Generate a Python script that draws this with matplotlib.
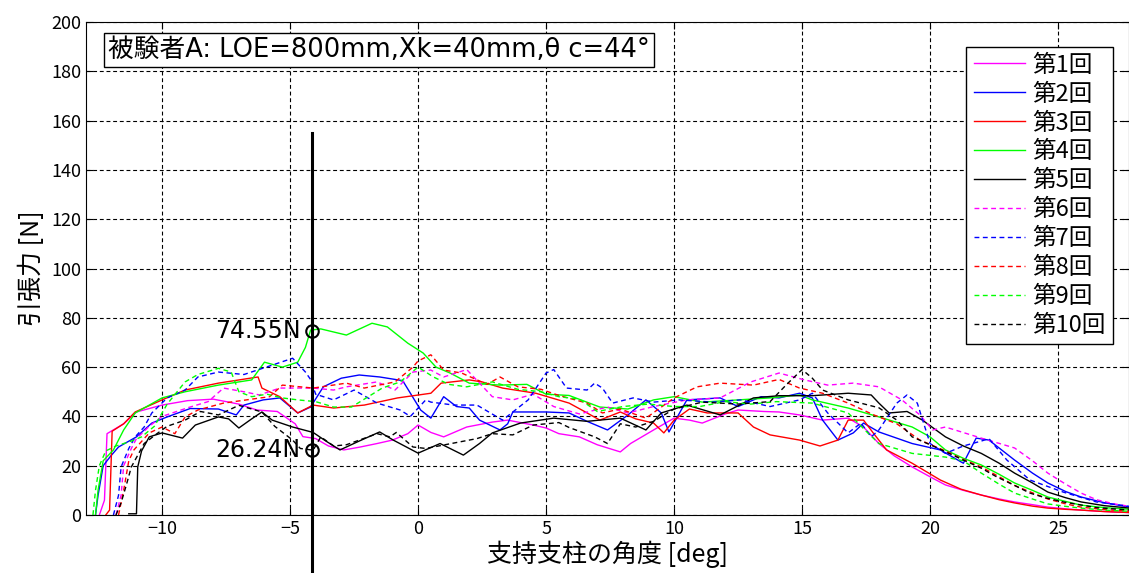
import matplotlib
matplotlib.use('Agg')
import matplotlib.pyplot as plt

plt.rcParams['font.family'] = ['Noto Sans CJK JP', 'DejaVu Sans']
wide_font = ['DejaVu Sans', 'Noto Sans CJK JP']

# (angle [deg], force [N]), one list per trial
trial1 = [(-12.45, 0), (-12.25, 6), (-12.15, 33), (-11.5, 37), (-11.0, 41.8), (-10.0, 44.6), (-9.0, 46.4),
          (-8.0, 47), (-7.0, 45), (-6.3, 42.6), (-5.5, 42), (-4.8, 37), (-4.5, 31.8), (-4.0, 31), (-3.5, 28),
          (-2.9, 26.4), (-2.3, 27.5), (-1.6, 29), (-1.0, 30.4), (-0.4, 33), (0.0, 36.5), (0.5, 33.5), (1.0, 31.7),
          (1.9, 35.7), (2.9, 37.7), (3.5, 38.5), (4.5, 36.5), (5.0, 35.3), (5.5, 33), (6.3, 31.7), (7.0, 28.5),
          (7.9, 25.6), (8.3, 29), (9.2, 34.5), (10.0, 39.3), (10.6, 38.5), (11.1, 37.3), (12.0, 41), (12.5, 42.6),
          (13.5, 42), (14.1, 41.8), (14.9, 40.6), (15.8, 38.5), (16.8, 39.3), (17.4, 35.7), (18.0, 29), (18.6, 24),
          (19.3, 19.5), (20.0, 15.5), (20.6, 12.2), (21.3, 10), (22.0, 8.1), (22.7, 6.5), (23.3, 5.3), (24.0, 4.2),
          (24.6, 3.2), (25.3, 2.5), (25.9, 2.0), (26.5, 1.6), (27.2, 1.2), (27.8, 1.0)]
trial2 = [(-12.6, 0), (-12.5, 8), (-12.3, 20), (-12.0, 24), (-11.7, 27.6), (-11.0, 31.7), (-10.4, 37.3), (-9.8, 39.8),
          (-8.9, 43.2), (-7.8, 43), (-7.1, 40.6), (-6.8, 44.6), (-6.05, 46.7), (-5.4, 47.5), (-4.7, 41.4), (-4.2, 43.8),
          (-3.7, 52), (-3.0, 55.5), (-2.3, 56.8), (-1.5, 56), (-0.6, 54.5), (0.1, 42.6), (0.5, 39.3), (1.0, 48),
          (1.5, 44), (2.0, 43.4), (2.4, 38.5), (3.2, 34.5), (3.5, 37), (3.7, 41.8), (5.0, 41.8), (5.9, 41.4),
          (6.6, 38), (7.4, 34.5), (8.2, 40.6), (8.9, 46.7), (9.5, 41.4), (9.8, 33.7), (10.5, 46.7), (11.8, 47.5),
          (12.5, 44), (13.4, 48), (14.1, 47.5), (14.9, 49.4), (15.4, 47.5), (15.8, 38.5), (16.4, 30.4), (17.0, 33.3),
          (17.4, 37.3), (18.0, 33.7), (19.3, 29), (20.4, 26.4), (21.3, 21), (21.8, 31.2), (22.3, 30.4), (23.3, 22.3),
          (24.0, 17), (24.6, 13), (25.3, 9.5), (25.9, 7.3), (26.8, 5), (27.8, 3.2)]
trial3 = [(-12.2, 0), (-12.05, 2), (-11.95, 34), (-11.5, 37), (-11.05, 41.8), (-10.0, 46.7), (-9.1, 50.7),
          (-7.8, 53.5), (-6.25, 56), (-6.1, 51.5), (-5.4, 48), (-4.7, 41.4), (-4.1, 44.6), (-3.3, 43.4), (-2.1, 44.6),
          (-0.8, 47.5), (0.5, 49.4), (0.9, 53.5), (2.0, 54.8), (2.5, 54), (3.3, 51.5), (4.6, 49.4), (5.9, 45.4),
          (6.5, 42), (7.1, 38.5), (7.9, 41.8), (8.5, 39), (9.2, 37.3), (9.6, 33.3), (10.0, 38.5), (10.6, 43),
          (11.3, 41.4), (12.5, 41.4), (13.1, 35.7), (13.75, 32.5), (14.9, 30.4), (15.7, 28), (16.4, 30.4),
          (16.8, 38.5), (17.4, 38.5), (17.8, 33), (18.3, 26.4), (19.3, 21), (20.4, 14.2), (21.2, 10.5), (22.0, 8.1),
          (22.7, 6.2), (23.3, 4.9), (24.0, 3.6), (24.6, 2.8), (25.3, 2.3), (25.9, 2.0), (26.8, 1.4), (27.8, 1.0)]
trial4 = [(-12.6, 0), (-12.5, 10), (-12.3, 22), (-11.9, 26.4), (-11.5, 34.5), (-11.05, 41.4), (-10.0, 47.5),
          (-9.1, 50), (-7.8, 52.7), (-6.5, 54.8), (-6.0, 62), (-5.3, 60), (-4.7, 62), (-4.4, 68), (-4.2, 75),
          (-3.8, 75.5), (-2.8, 73), (-1.8, 77.8), (-1.2, 76.3), (-0.4, 69.7), (0.2, 65.7), (0.7, 60), (1.25, 57.6),
          (2.0, 53.5), (3.2, 52.7), (4.25, 53), (5.0, 49), (5.9, 48.5), (7.1, 43.8), (8.2, 43), (9.2, 46.7),
          (10.0, 48), (11.1, 45.8), (12.5, 46.7), (13.75, 47.5), (14.9, 48.7), (15.4, 46.7), (16.8, 43.4),
          (18.0, 39.8), (19.3, 35.7), (20.0, 31.7), (20.6, 26.4), (21.3, 23), (22.0, 20.3), (22.7, 16.5),
          (23.3, 13), (24.0, 10), (24.6, 7.3), (25.3, 5.5), (25.9, 4), (26.8, 3), (27.8, 2.3)]
trial5 = [(-11.3, 0.5), (-11.0, 0.5), (-10.95, 19.5), (-10.8, 26), (-10.5, 31.7), (-10.0, 33.3), (-9.2, 31.2),
          (-8.7, 36.5), (-7.8, 39.8), (-7.4, 39), (-7.0, 35.3), (-6.5, 39), (-6.1, 41.8), (-5.7, 38.5), (-4.9, 35.7),
          (-4.1, 33.5), (-3.6, 30), (-3.05, 26.4), (-2.3, 30), (-1.5, 33.7), (-0.97, 30.4), (0.0, 25.1), (0.86, 29),
          (1.77, 24.3), (2.4, 29), (2.9, 33.3), (4.0, 37.3), (5.3, 39.3), (6.6, 38), (7.9, 39.3), (8.9, 34.5),
          (9.5, 41.4), (10.5, 44.6), (11.8, 40.6), (13.1, 47.5), (14.1, 48.4), (15.4, 48.4), (16.8, 49.4),
          (17.7, 48.7), (18.0, 45.4), (18.4, 41.4), (19.1, 42), (19.7, 38.5), (20.6, 31.7), (21.3, 28), (22.0, 25),
          (22.7, 21), (23.3, 17), (24.0, 13), (24.6, 9.3), (25.3, 7), (25.9, 5.3), (26.8, 3.8), (27.8, 2.8)]
trial6 = [(-11.8, 0), (-11.6, 8), (-11.5, 20), (-11.2, 27), (-11.0, 31), (-10.5, 36), (-10.0, 40), (-9.0, 43.5),
          (-8.2, 46), (-7.6, 51.5), (-6.8, 50), (-6.2, 48.7), (-5.4, 51.5), (-4.1, 51.5), (-3.3, 50.7), (-2.8, 52),
          (-1.6, 54), (-0.9, 50.7), (-0.2, 58), (0.5, 58.8), (1.0, 56), (1.9, 59), (2.9, 48), (3.7, 46.7), (4.5, 49),
          (5.3, 44), (6.3, 41), (7.4, 43.8), (8.2, 41.4), (9.2, 44), (10.5, 46.7), (11.8, 47.5), (13.0, 54),
          (14.1, 57.6), (15.1, 54.8), (16.0, 52.7), (17.0, 53.5), (18.0, 52), (18.9, 46.7), (19.6, 40.6),
          (20.1, 34.5), (20.6, 35.7), (22.0, 31.2), (23.3, 27.2), (24.0, 22), (24.6, 17), (25.3, 12.5),
          (25.9, 8.9), (26.5, 6.2), (27.2, 4.5), (27.8, 3.5)]
trial7 = [(-11.9, 0), (-11.7, 8), (-11.6, 19.5), (-11.3, 27), (-11.05, 31.7), (-10.7, 35.7), (-10.4, 41.4),
          (-9.8, 47.5), (-9.1, 50.7), (-8.6, 56), (-7.8, 58), (-6.8, 57), (-5.7, 60.8), (-4.9, 63.6), (-4.4, 58),
          (-4.2, 55), (-4.0, 49), (-3.3, 46.7), (-2.5, 50.7), (-1.6, 45.4), (-0.7, 42.6), (-0.3, 40), (0.3, 46.7),
          (0.5, 45.8), (1.4, 44.6), (2.3, 44.6), (3.3, 38.5), (4.3, 46.7), (5.0, 57.6), (5.3, 59), (5.8, 51.5),
          (6.6, 50.7), (6.9, 53.5), (7.2, 51.5), (7.6, 45.4), (8.4, 47.5), (9.2, 45.8), (10.2, 46.7), (11.5, 45.8),
          (12.6, 46.7), (13.75, 44), (14.9, 46.7), (15.4, 49.4), (16.0, 41.4), (16.8, 33.3), (17.3, 37.3),
          (17.7, 31.7), (18.0, 34.5), (18.7, 45.4), (19.1, 48.7), (19.5, 45.4), (20.0, 29), (20.6, 25), (21.3, 28),
          (22.0, 30), (22.3, 31), (23.0, 22.3), (23.9, 14.2), (25.2, 9.3), (26.5, 5.3), (27.8, 3.5)]
trial8 = [(-11.7, 0), (-11.5, 10), (-11.3, 22), (-11.1, 26.4), (-10.5, 33.3), (-10.0, 35.7), (-9.5, 33),
          (-9.1, 39.8), (-8.6, 42.6), (-7.6, 45.4), (-6.5, 47), (-5.8, 48), (-5.3, 52.7), (-4.1, 51.5), (-2.8, 53.5),
          (-2.1, 51.5), (-0.9, 54), (-0.2, 60), (0.0, 62.5), (0.5, 65), (1.0, 58.8), (1.7, 57.6), (2.7, 53),
          (3.2, 56), (3.9, 52), (4.8, 51), (5.5, 48.5), (6.6, 45.4), (7.2, 41.4), (7.9, 43), (8.9, 39.3),
          (10.0, 47.5), (10.9, 52), (11.8, 53.5), (13.1, 52.7), (14.1, 55), (14.9, 51.5), (15.8, 49.4),
          (16.8, 45.4), (17.8, 40.6), (18.7, 37), (19.6, 30.4), (20.6, 26), (21.3, 22.5), (22.0, 19.5),
          (22.7, 15.5), (23.3, 12), (24.0, 9), (24.6, 6.5), (25.3, 4.5), (25.9, 3.2), (26.8, 2.2), (27.8, 1.5)]
trial9 = [(-12.7, 0), (-12.6, 10), (-12.45, 20), (-12.2, 26), (-11.8, 28), (-11.2, 30), (-10.8, 31.7),
          (-10.3, 36), (-9.8, 45), (-9.1, 54), (-8.6, 57), (-7.8, 59.5), (-7.3, 58), (-7.0, 50), (-6.5, 48),
          (-5.9, 49), (-5.3, 47.5), (-4.7, 46.7), (-4.0, 46), (-3.3, 43.8), (-2.6, 43.8), (-1.4, 51.5), (-0.7, 54),
          (0.0, 60), (0.6, 56), (1.2, 53), (1.9, 52), (2.9, 54), (3.9, 51), (4.8, 50), (5.5, 48), (6.3, 47),
          (7.0, 42), (8.0, 44), (9.0, 45), (10.0, 44), (11.0, 44), (12.0, 46), (13.0, 45), (14.0, 46),
          (15.4, 45.4), (16.8, 41.4), (17.5, 34), (18.0, 29), (19.3, 25), (20.6, 23.5), (21.3, 22), (22.0, 17),
          (22.7, 12.5), (23.3, 8.9), (24.0, 6.5), (24.6, 4.5), (25.3, 3.5), (25.9, 2.8), (26.8, 2), (27.8, 1.5)]
trial10 = [(-11.8, 0), (-11.6, 5), (-11.4, 12), (-11.2, 19.5), (-10.7, 29), (-10.2, 33), (-9.8, 36), (-9.1, 38.5),
           (-8.5, 42), (-7.8, 40.6), (-7.0, 44.5), (-6.1, 41.8), (-5.6, 36), (-4.9, 30.4), (-4.6, 27), (-4.1, 26.3),
           (-3.8, 31.7), (-3.3, 28), (-2.8, 28.5), (-1.6, 33), (-1.1, 31.7), (-0.85, 33.5), (-0.2, 27.6), (0.3, 27),
           (1.3, 29), (2.3, 31), (2.9, 33), (3.7, 32.5), (4.5, 36.5), (5.5, 37.5), (5.9, 35.5), (6.9, 31.7),
           (7.4, 29), (7.9, 37), (8.5, 35.7), (9.2, 38), (10.0, 43), (11.1, 45.8), (12.5, 45), (13.75, 46),
           (14.4, 53), (15.0, 59), (15.4, 55.5), (15.8, 50.7), (16.8, 46.7), (18.0, 43.5), (18.7, 38.5),
           (19.3, 31.7), (20.2, 27.6), (21.3, 22.3), (22.0, 19), (22.6, 15.5), (23.3, 12), (23.9, 8.9), (24.5, 7),
           (25.2, 5.3), (26.5, 3), (27.8, 2)]

trials = [trial1, trial2, trial3, trial4, trial5, trial6, trial7, trial8, trial9, trial10]
labels = ['第1回', '第2回', '第3回', '第4回', '第5回', '第6回', '第7回', '第8回', '第9回', '第10回']
colors = ['#ff00ff', '#0000ff', '#ff0000', '#00ff00', '#000000'] * 2

# cursor line and the two values marked on it
cursor_x = -4.13
cursor_top = 155
marked_vals = [74.55, 26.24]

fig = plt.figure(figsize=(11.29, 5.73), dpi=100)
ax = fig.add_axes([0.0762, 0.1012, 0.9238, 0.8604])

for i, (pts, lab) in enumerate(zip(trials, labels)):
    xs = [p[0] for p in pts]
    ys = [p[1] for p in pts]
    ls = '-' if i < 5 else (0, (3.5, 2.5))
    ax.plot(xs, ys, color=colors[i], lw=1.0, linestyle=ls, label=lab)

# vertical cursor, runs down past the axis
ax.plot([cursor_x, cursor_x], [-24, cursor_top], color='black', lw=2.2, clip_on=False, zorder=5)
for v in marked_vals:
    ax.plot(cursor_x, v, 'o', mfc='none', mec='black', ms=9, mew=1.5, zorder=6)
    ax.text(cursor_x - 0.45, v, f'{v:.2f}N', ha='right', va='center', fontsize=17, family=wide_font)

ax.set_xlim(-12.97, 27.77)
ax.set_ylim(0, 200)
ax.set_xticks(range(-10, 26, 5))
ax.set_yticks(range(0, 201, 20))
ax.tick_params(direction='in', top=True, right=True, labelsize=13, length=5)
ax.grid(True, color='black', linestyle=(0, (3.5, 2.5)), lw=0.8)
ax.set_xlabel('支持支柱の角度 [deg]', fontsize=18, labelpad=2)
ax.set_ylabel('引張力 [N]', fontsize=18, labelpad=4)

ax.text(0.021, 0.943, '被験者A: LOE=800mm,Xk=40mm,θ c=44°', transform=ax.transAxes,
        fontsize=18.5, va='center', ha='left', family=wide_font,
        bbox=dict(boxstyle='square,pad=0.15', fc='white', ec='black', lw=1))

leg = ax.legend(loc='upper right', bbox_to_anchor=(0.996, 0.974), fontsize=17, fancybox=False,
                framealpha=1, edgecolor='black', handlelength=2.2, handletextpad=0.3,
                labelspacing=0.25, borderpad=0.3)
leg.get_frame().set_linewidth(1.0)

fig.savefig('out.png', dpi=100)
